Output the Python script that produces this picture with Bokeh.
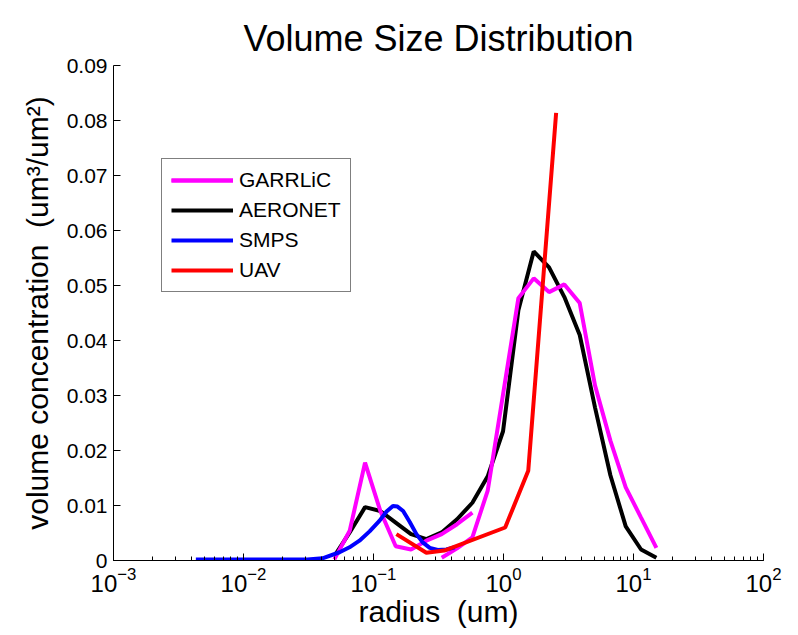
from bokeh.plotting import figure
from bokeh.models import FixedTicker, LogTicker, Legend, LegendItem
from bokeh.embed import file_html
from bokeh.resources import INLINE

# ---------------- data ----------------
aeronet_r = [0.05, 0.0656, 0.0861, 0.1129, 0.1482, 0.1944, 0.2551, 0.3347, 0.4392,
             0.5762, 0.7561, 0.9920, 1.3016, 1.7078, 2.2407, 2.9400, 3.8575, 5.0613,
             6.6407, 8.7131, 11.432, 15.0]
aeronet_v = [0.0008, 0.0051, 0.0097, 0.0090, 0.0069, 0.0048, 0.0039, 0.0051, 0.0075,
             0.0105, 0.0153, 0.0235, 0.0455, 0.0562, 0.0533, 0.0479, 0.0410, 0.0278,
             0.0155, 0.0062, 0.0020, 0.0005]

garr_fine_r = [0.05, 0.0656, 0.0861, 0.1129, 0.1482, 0.1944, 0.2551, 0.3347, 0.4392, 0.5762]
garr_fine_v = [0.0002, 0.0054, 0.0178, 0.0090, 0.0026, 0.0020, 0.0036, 0.0048, 0.0066, 0.0087]

garr_coarse_r = [0.3347, 0.4392, 0.5762, 0.7561, 0.9920, 1.3016, 1.7078, 2.2407, 2.9400,
                 3.8575, 5.0613, 6.6407, 8.7131, 11.432, 15.0]
garr_coarse_v = [0.0005, 0.0022, 0.0042, 0.0127, 0.0302, 0.0477, 0.0513, 0.0488, 0.0502,
                 0.0468, 0.0318, 0.0218, 0.0133, 0.0078, 0.0023]

smps_r = [0.0043, 0.008, 0.015, 0.031, 0.0405, 0.0548, 0.0654, 0.078, 0.0933, 0.111,
          0.126, 0.141, 0.153, 0.169, 0.19, 0.214, 0.239, 0.271, 0.312, 0.364, 0.422]
smps_v = [0.0002, 0.0002, 0.0002, 0.0002, 0.0004, 0.0015, 0.0024, 0.0036, 0.0053, 0.0072,
          0.0089, 0.0099, 0.0098, 0.0090, 0.0070, 0.0048, 0.0033, 0.0023, 0.0019, 0.0020, 0.0024]

uav_r = [0.150, 0.255, 0.35, 1.03, 1.55, 2.54]
uav_v = [0.0048, 0.0014, 0.0018, 0.0060, 0.0163, 0.0814]

y_ticks = [0, 0.01, 0.02, 0.03, 0.04, 0.05, 0.06, 0.07, 0.08, 0.09]
y_labels = ["0", "0.01", "0.02", "0.03", "0.04", "0.05", "0.06", "0.07", "0.08", "0.09"]

FONT = "Liberation Sans"

p = figure(width=790, height=634, x_axis_type="log", x_range=(1e-3, 1e2), y_range=(0, 0.09),
           output_backend="svg", toolbar_location=None,
           min_border_left=113, min_border_right=27, min_border_top=65, min_border_bottom=74,
           title="Volume Size Distribution")
p.title.text_font = FONT
p.title.text_font_size = "36px"
p.title.text_font_style = "normal"
p.title.text_color = "#000000"
p.title.align = "center"
p.title.vertical_align = "top"
p.title.standoff = 10
p.outline_line_color = None
p.xgrid.visible = False
p.ygrid.visible = False

lw = 4
r_black = p.line(aeronet_r, aeronet_v, line_color="#000000", line_width=lw)
r_mag1 = p.line(garr_fine_r, garr_fine_v, line_color="#FF00FF", line_width=lw)
r_mag2 = p.line(garr_coarse_r, garr_coarse_v, line_color="#FF00FF", line_width=lw)
r_blue = p.line(smps_r, smps_v, line_color="#0000FF", line_width=lw)
r_red = p.line(uav_r, uav_v, line_color="#FF0000", line_width=lw)

legend = Legend(items=[
    LegendItem(label="GARRLiC", renderers=[r_mag1, r_mag2]),
    LegendItem(label="AERONET", renderers=[r_black]),
    LegendItem(label="SMPS", renderers=[r_blue]),
    LegendItem(label="UAV", renderers=[r_red]),
], location=(48, 268))
legend.label_text_font = FONT
legend.label_text_font_size = "21px"
legend.label_text_color = "#000000"
legend.glyph_width = 62
legend.glyph_height = 20
legend.label_height = 20
legend.label_standoff = 6
legend.spacing = 6
legend.padding = 9
legend.margin = 0
legend.border_line_color = "#000000"
legend.border_line_width = 1
legend.background_fill_color = "white"
legend.background_fill_alpha = 1.0
p.add_layout(legend, "center")

xa = p.xaxis[0]
xa.ticker = LogTicker(num_minor_ticks=10)
xa.axis_label = "radius\u00a0 (um)"
ya = p.yaxis[0]
ya.ticker = FixedTicker(ticks=y_ticks)
ya.major_label_overrides = {t: l for t, l in zip(y_ticks, y_labels)}
ya.axis_label = "volume concentration\u00a0 (um\u00b3/um\u00b2)"

for ax in (xa, ya):
    ax.axis_line_color = "#000000"
    ax.axis_line_width = 1
    ax.major_tick_in = 7
    ax.major_tick_out = 0
    ax.minor_tick_in = 4
    ax.minor_tick_out = 0
    ax.major_tick_line_color = "#000000"
    ax.minor_tick_line_color = "#000000"
    ax.major_label_text_font = FONT
    ax.major_label_text_color = "#000000"
    ax.axis_label_text_font = FONT
    ax.axis_label_text_font_size = "30px"
    ax.axis_label_text_font_style = "normal"
    ax.axis_label_text_color = "#000000"
    ax.major_label_standoff = 6
xa.axis_label_standoff = 0
ya.axis_label_standoff = 10
xa.major_label_text_font_size = "24px"
ya.major_label_text_font_size = "21px"
ya.minor_tick_line_color = None

open("out.html", "w").write(file_html(p, INLINE))
